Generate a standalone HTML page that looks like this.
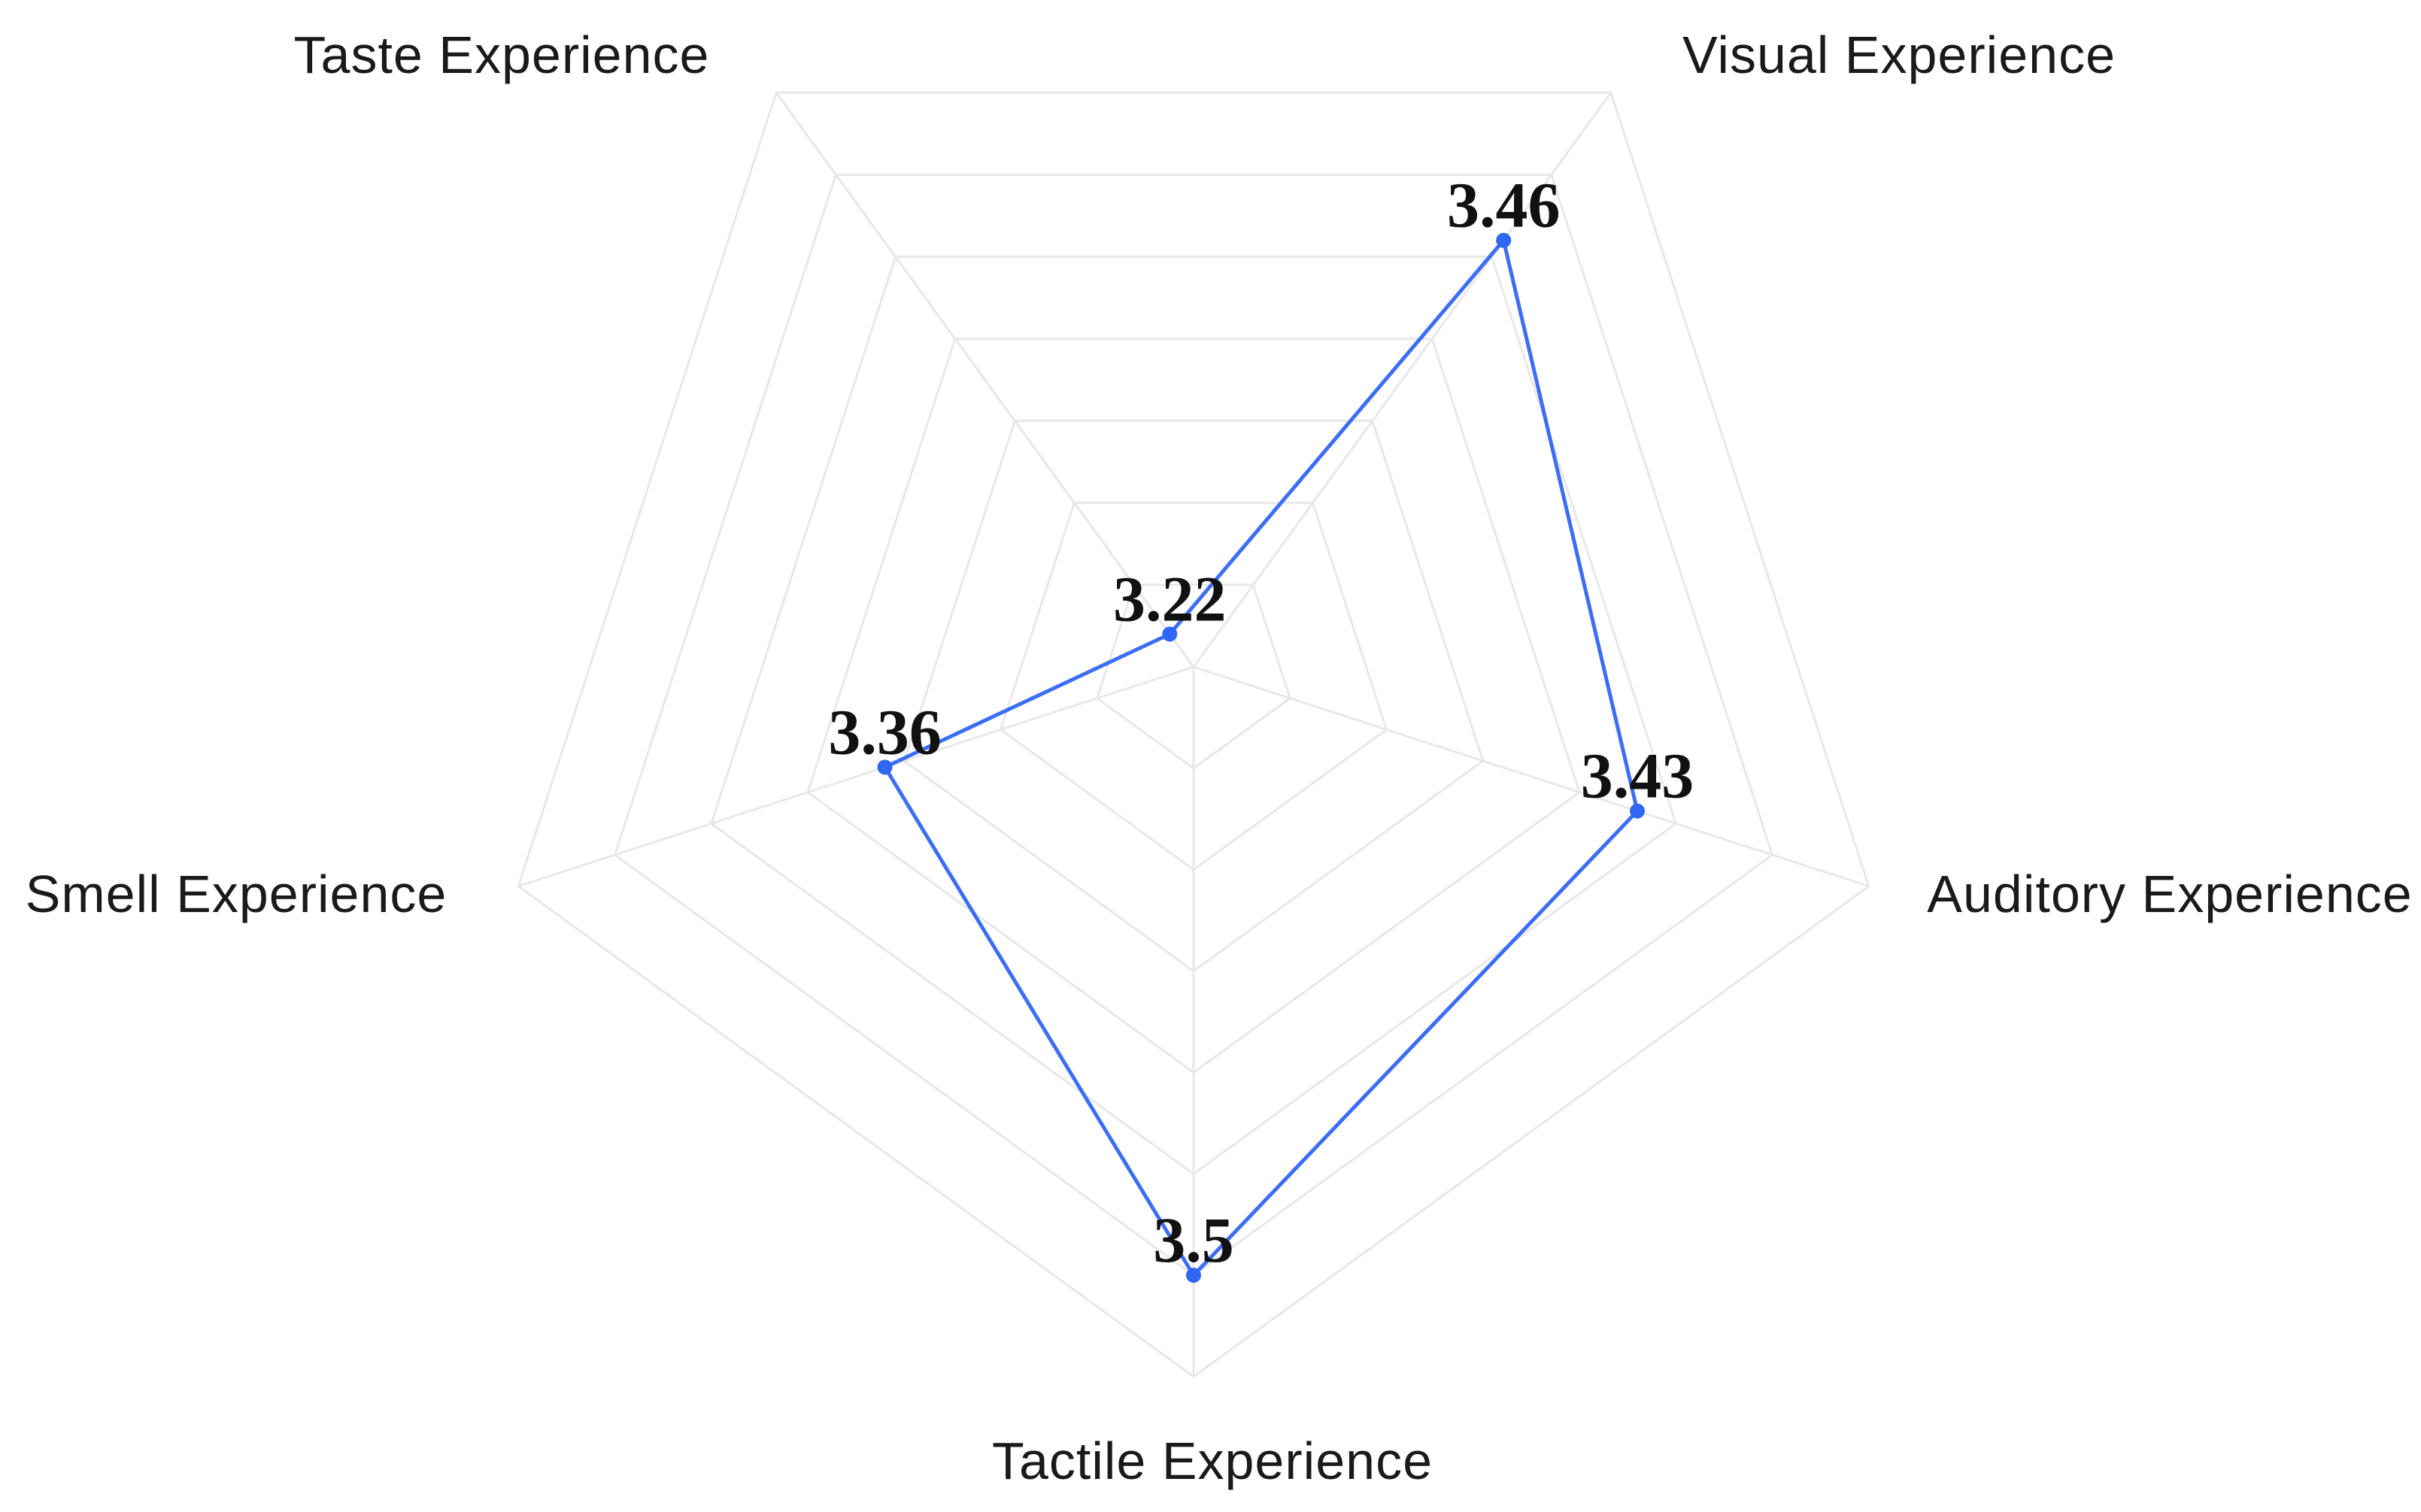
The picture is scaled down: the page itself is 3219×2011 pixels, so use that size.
<!DOCTYPE html>
<html><head><meta charset="utf-8"><style>
html,body{margin:0;padding:0;background:#fff;}
svg{display:block;}
</style></head><body>
<svg id="chart" width="3219" height="2011" viewBox="0 0 3219 2011" xmlns="http://www.w3.org/2000/svg"></svg>
<script>
const categories = ["Tactile Experience","Auditory Experience","Visual Experience","Taste Experience","Smell Experience"];
const values = [3.5, 3.43, 3.46, 3.22, 3.36];
const valueLabels = ["3.5","3.43","3.46","3.22","3.36"];
const axisMin = 3.2;
const axisMax = 3.55;
const ringCount = 7;

const NS = "http://www.w3.org/2000/svg";
const svg = document.getElementById("chart");
const cx = 1587, cy = 887, R = 944;
function ang(i){ return (90 - i*72) * Math.PI/180; }
function pt(i, frac){ return [cx + Math.cos(ang(i))*R*frac, cy + Math.sin(ang(i))*R*frac]; }
function rScale(v){ return (v-axisMin)/(axisMax-axisMin); }
function mk(tag, attrs){ const e=document.createElementNS(NS,tag); for(const k in attrs) e.setAttribute(k,attrs[k]); svg.appendChild(e); return e; }

for(let r=1;r<=ringCount;r++){
  const f=r/ringCount;
  const pts=categories.map((c,i)=>pt(i,f).join(",")).join(" ");
  const p=mk("polygon",{points:pts,fill:"none",stroke:"#e8e8e8","stroke-width":3});
  
  
}
categories.forEach((c,i)=>{
  const [x,y]=pt(i,1);
  const l=mk("line",{x1:cx,y1:cy,x2:x,y2:y,stroke:"#e8e8e8","stroke-width":3});
  
  
});
const labelPos=[[1612,1942],[2885,1188],[2525,72],[667,72],[314,1188]];
categories.forEach((c,i)=>{
  const t=mk("text",{x:labelPos[i][0],y:labelPos[i][1]+25,"text-anchor":"middle","font-family":"Liberation Sans, sans-serif","font-size":70,fill:"#1a1a1a","letter-spacing":"1"});
  t.textContent=c;
  
  
});
const dpts=values.map((v,i)=>pt(i,rScale(v)));
const poly=mk("polygon",{points:dpts.map(p=>p.join(",")).join(" "),fill:"none",stroke:"#3c6ef5","stroke-width":5,"stroke-linejoin":"round"});


dpts.forEach((p,i)=>{
  const c=mk("circle",{cx:p[0],cy:p[1],r:10,fill:"#2f66f3"});
  
  
  const t=mk("text",{x:p[0],y:p[1]-18,"text-anchor":"middle","font-family":"Liberation Serif, serif","font-weight":"bold","font-size":86,fill:"#111"});
  t.textContent=valueLabels[i];
  
  
});
</script>
</body></html>
